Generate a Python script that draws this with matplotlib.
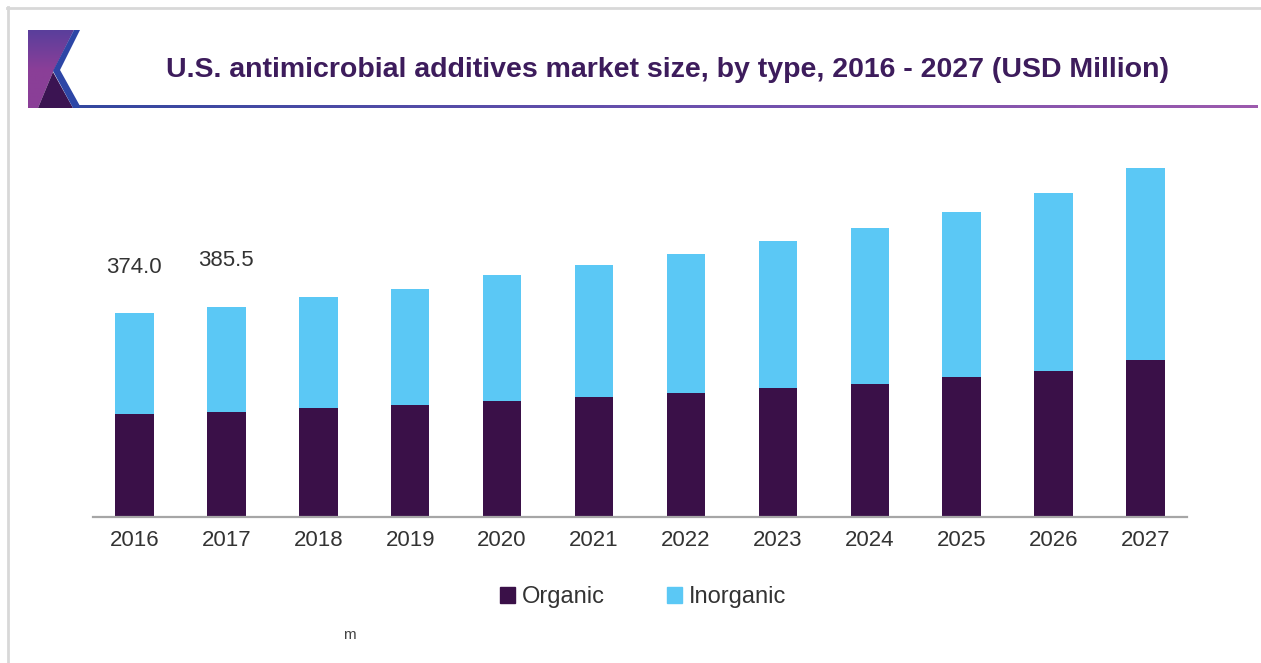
import numpy as np
import matplotlib
matplotlib.use('Agg')
import matplotlib.pyplot as plt
from matplotlib.patches import Polygon, Patch
from matplotlib.colors import LinearSegmentedColormap

years = ['2016', '2017', '2018', '2019', '2020', '2021',
         '2022', '2023', '2024', '2025', '2026', '2027']
organic = [188.8, 192.5, 199.8, 205.3, 212.7, 220.0, 227.3, 236.5, 243.8, 256.7, 267.7, 287.8]
inorganic = [185.2, 193.0, 203.5, 212.7, 231.0, 242.0, 254.9, 269.5, 286.0, 302.5, 326.3, 352.0]
labels = {0: '374.0', 1: '385.5'}  # only the first two totals are printed

c_org = '#3a1048'
c_inorg = '#5bc8f5'
title_col = '#3d1c5c'

plt.rcParams['font.family'] = ['Liberation Sans', 'DejaVu Sans']

W, H = 1261, 663
fig = plt.figure(figsize=(W / 100, H / 100), dpi=100)

# overlay in pixel coords for frame + logo
deco = fig.add_axes([0, 0, 1, 1], zorder=0)
deco.axis('off')

# thin gray frame (top and left)
deco.plot([7, W], [7.5, 7.5], color='#d8d8d8', lw=2)
deco.plot([7.5, 7.5], [7, H], color='#d8d8d8', lw=2)

# logo: purple gradient block, dark triangle, blue chevron
purple = Polygon([(28, 30), (74, 30), (53, 72), (38, 108), (28, 108)], closed=True,
                 fc='none', ec='none')
deco.add_patch(purple)
grad = np.linspace(0, 1, 100).reshape(-1, 1)
cm_logo = LinearSegmentedColormap.from_list('lg', ['#5a3e9c', '#8a3f98', '#8b3f97'])
im = deco.imshow(grad, cmap=cm_logo, extent=[28, 75, 108, 30], aspect='auto', zorder=1)
im.set_clip_path(purple)
deco.add_patch(Polygon([(53, 72), (38, 108), (73, 108)], closed=True, fc='#3b1452', ec='none', zorder=2))
deco.add_patch(Polygon([(74, 30), (80, 30), (60, 70), (80, 106), (80, 108), (73, 108), (53, 71)],
                       closed=True, fc='#2d46a6', ec='none', zorder=2))

# gradient underline
cm_line = LinearSegmentedColormap.from_list('ln', ['#34479f', '#6a50ad', '#9c5aad'])
deco.imshow(np.linspace(0, 1, 200).reshape(1, -1), cmap=cm_line,
            extent=[79, 1258, 108.5, 105.5], aspect='auto', zorder=2)
deco.set_xlim(0, W)
deco.set_ylim(H, 0)

fig.text(0.529, 0.894, 'U.S. antimicrobial additives market size, by type, 2016 - 2027 (USD Million)',
         ha='center', va='center', fontsize=20.5, fontweight='bold', color=title_col)

# main chart
ax = fig.add_axes([93 / W, (H - 517) / H, 1094 / W, 387 / H], zorder=1)
ax.patch.set_alpha(0)
x = np.arange(len(years))
ax.bar(x, organic, width=0.42, color=c_org, label='Organic')
ax.bar(x, inorganic, width=0.42, bottom=organic, color=c_inorg, label='Inorganic')

tot = np.array(organic) + np.array(inorganic)
for i, txt in labels.items():
    ax.annotate(txt, (x[i], tot[i]), xytext=(0, 33), textcoords='offset points',
                ha='center', va='center', fontsize=16, color='#333333')

ax.set_xlim(-0.45, 11.45)
ax.set_ylim(0, 709.5)
ax.set_xticks(x)
ax.set_xticklabels(years, fontsize=16, color='#333333')
ax.tick_params(axis='x', length=0, pad=9)
ax.set_yticks([])
for s in ['top', 'right', 'left']:
    ax.spines[s].set_visible(False)
ax.spines['bottom'].set_color('#a6a6a6')
ax.spines['bottom'].set_linewidth(1.6)

handles = [Patch(color=c_org, label='Organic'), Patch(color=c_inorg, label='Inorganic')]
fig.legend(handles=handles, loc='center', bbox_to_anchor=(0.51, 0.0995), ncol=2, frameon=False,
           fontsize=17, handlelength=0.65, handleheight=0.65, handletextpad=0.3, columnspacing=2.6,
           labelcolor='#333333')

fig.text(349 / W, 1 - 635 / H, 'm', ha='center', va='center', fontsize=11, color='#444444')

fig.savefig('out.png', dpi=100)
